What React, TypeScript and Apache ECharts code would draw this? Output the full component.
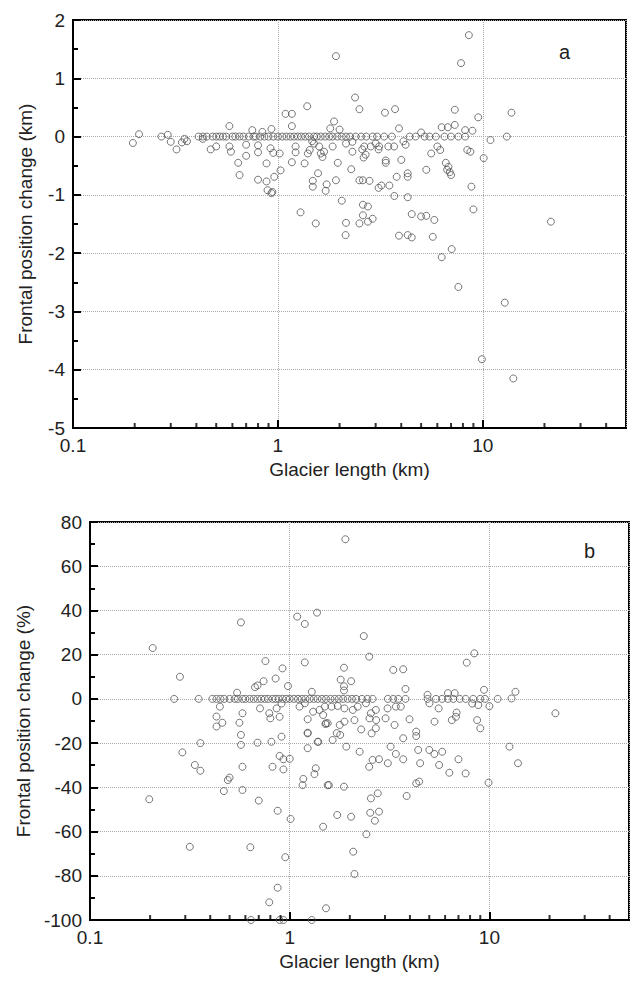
import React, { useEffect, useRef } from "react";
import * as echarts from "echarts";

// ---- Panel a: glacier length (km) vs frontal position change (km)
const panelAPoints: [number, number][] = [
  [0.196, -0.11], [0.21, 0.04], [0.29, 0.03], [0.3, -0.09], [0.32, -0.22], [0.34, -0.1], [0.35, -0.04],
  [0.36, -0.08], [0.43, -0.04], [0.47, -0.22], [0.5, -0.17], [0.58, 0.18], [0.58, -0.17], [0.59, -0.26],
  [0.64, -0.45], [0.65, -0.66], [0.7, -0.14], [0.7, -0.33], [0.75, 0.11], [0.8, -0.74], [0.8, -0.15],
  [0.8, -0.27], [0.84, 0.08], [0.88, -0.77], [0.88, -0.46], [0.89, -0.92], [0.93, -0.97], [0.96, -0.69],
  [0.94, -0.95], [0.93, 0.13], [0.92, -0.2], [0.95, -0.28], [1.02, -0.29], [1.03, -0.58], [1.09, 0.39],
  [1.17, 0.39], [1.17, 0.18], [1.17, -0.44], [1.22, -0.17], [1.22, -0.27], [1.35, -0.46], [1.39, 0.52],
  [1.29, -1.3], [1.4, -0.29], [1.48, -0.86], [1.53, -1.49], [1.57, -0.63], [1.65, -0.35], [1.71, -0.93],
  [1.43, -0.23], [1.5, -0.12], [1.47, -0.08],
  [1.92, 1.38], [8.55, 1.74], [7.83, 1.26], [2.38, 0.67], [2.5, 0.47], [3.33, 0.41], [3.73, 0.47],
  [7.3, 0.46], [9.5, 0.33], [13.8, 0.41], [1.88, 0.26], [1.8, 0.14], [2.0, 0.12], [3.9, 0.14], [5.0, 0.07],
  [6.3, 0.16], [6.75, 0.16], [7.3, 0.2], [8.2, 0.11], [8.9, 0.1], [10.9, -0.06], [13.1, 0.0], [10.1, -0.37],
  [1.59, -0.17], [1.85, -0.17], [2.15, -0.12], [2.31, -0.09], [2.64, -0.17], [2.84, -0.17], [3.12, -0.17],
  [3.46, -0.17], [3.69, -0.17], [1.62, -0.29], [1.68, -0.26], [1.96, -0.45], [2.28, -0.56], [2.31, -0.26],
  [2.58, -0.22], [2.68, -0.31], [2.62, -0.36], [3.1, -0.22], [3.0, -0.12], [3.36, -0.45], [3.36, -0.41],
  [4.0, -0.4], [4.1, -0.08], [4.2, -0.14], [5.6, -0.29], [6.0, -0.17], [6.2, -0.23], [5.3, -0.57],
  [6.6, -0.45], [6.8, -0.52], [6.9, -0.61], [7.0, -0.66], [6.7, -0.57], [8.4, -0.23], [8.7, -0.26],
  [4.3, -0.63], [4.3, -0.69], [3.8, -0.69], [1.48, -0.76], [1.73, -0.82], [1.92, -0.75], [2.5, -0.75],
  [2.6, -0.75], [2.8, -0.76], [3.1, -0.88], [3.2, -0.84], [3.5, -0.84], [3.7, -1.02], [4.3, -1.04],
  [2.05, -1.1], [8.8, -0.86], [9.0, -1.25], [2.6, -1.17], [2.75, -1.2], [2.6, -1.35], [2.9, -1.41],
  [2.75, -1.46], [2.5, -1.49], [2.15, -1.48], [4.5, -1.33], [5.0, -1.37], [5.3, -1.36], [5.8, -1.43],
  [2.14, -1.69], [3.9, -1.7], [4.3, -1.69], [4.5, -1.73], [5.7, -1.72], [7.05, -1.93], [6.3, -2.07],
  [21.5, -1.46], [7.6, -2.58], [12.8, -2.85], [9.9, -3.82], [14.1, -4.15],
];
const panelAZeroLengths: number[] = [
  0.27, 0.41, 0.43, 0.45, 0.48, 0.5, 0.52, 0.54, 0.56, 0.6, 0.62, 0.65, 0.68, 0.72, 0.76, 0.78, 0.82,
  0.86, 0.9, 0.95, 1.0, 1.05, 1.1, 1.15, 1.2, 1.25, 1.3, 1.36, 1.42, 1.5, 1.55, 1.62, 1.7, 1.78, 1.85,
  1.95, 2.05, 2.15, 2.25, 2.4, 2.55, 2.7, 2.9, 3.05, 3.3, 3.6, 4.4, 4.7, 5.2, 5.5, 5.9, 6.5, 7.0, 7.6, 8.2,
];

// ---- Panel b: glacier length (km) vs frontal position change (%)
const panelBPoints: [number, number][] = [
  [0.206, 23], [0.282, 10], [0.264, 0], [0.35, 0], [0.545, 2.8], [0.447, -3.5], [0.43, -8], [0.43, -12.5],
  [0.46, -10.8], [0.58, -6.5], [0.56, -10.8], [0.57, -16.3], [0.57, -20.8], [0.357, -20], [0.29, -24.2],
  [0.335, -29.9], [0.357, -32.5], [0.198, -45.4], [0.316, -66.9], [0.468, -41.7], [0.5, -35.6],
  [0.49, -36.7], [0.58, -41.2], [0.58, -30.7], [0.69, -19.8], [0.7, -46], [0.635, -67.1], [0.71, -4.3],
  [0.67, 5.3], [0.69, 6.1], [0.74, 8.0], [0.756, 17.1], [0.85, 9.2], [0.92, 13.8], [0.98, 5.8], [0.79, -6.5],
  [0.8, -8.8], [0.89, -8.1], [0.91, -2.1], [0.86, -4.3], [0.81, -19.4], [0.91, -17.1], [0.89, -25.8],
  [0.93, -27.3], [1.0, -27.1], [0.82, -30.7], [0.93, -31.9], [0.87, -50.6], [1.01, -54.3], [0.95, -71.6],
  [0.87, -85.4], [0.79, -92], [0.64, -100], [0.89, -100], [0.93, -100], [1.29, -100], [1.09, 37.2],
  [1.19, 33.9], [1.37, 39], [0.57, 34.6], [1.19, 16.5], [1.29, 3.2], [1.23, -9.2], [1.23, -15.3],
  [1.23, -22.3], [1.39, -19.4], [1.52, -11], [1.35, -31.4], [1.33, -34], [1.17, -36.2], [1.16, -39],
  [1.55, -39], [1.47, -57.8], [1.52, -94.7],
  [1.9, 72.2], [2.35, 28.4], [2.5, 19.1], [1.87, 14.1], [3.3, 13.1], [3.7, 13.4], [8.4, 20.6], [7.7, 16.4],
  [1.8, 8.7], [2.03, 8], [1.87, 5.7], [1.87, 3.8], [3.8, 4.5], [4.9, 1.8], [6.2, 2.6], [6.7, 2.6], [9.4, 4.1],
  [13.5, 3.2], [12.9, 0.2], [11.0, 0], [10.0, -3.3], [8.2, -2.1], [8.8, -2.8],
  [1.12, -3.5], [1.19, -2], [1.31, -5.8], [1.41, -5], [1.5, -3.5], [1.62, -3.5], [1.74, -3.2], [1.88, -4.3],
  [2.07, -5], [2.19, -3.5], [2.41, -2.0], [2.55, -6.5], [2.7, -5], [3.09, -4.3], [3.4, -3.5], [3.6, -3.5],
  [1.47, -7.3], [1.55, -11], [1.78, -11.8], [1.88, -10.3], [2.11, -9.6], [2.51, -8.8], [2.71, -9.6],
  [3.02, -8.8], [3.35, -11.8], [3.98, -9.2], [5.01, -2], [5.31, -10.3], [5.57, -4.3], [6.48, -9.6],
  [6.8, -8.1], [6.85, -6.2], [8.68, -9.6], [9.0, -13.3],
  [1.51, -11.4], [1.23, -15.6], [1.38, -19.4], [1.64, -18.6], [1.72, -15.5], [1.79, -16.3], [1.92, -21.6],
  [2.28, -13.8], [2.57, -15.6], [2.7, -13.3], [2.24, -23.9], [3.2, -21.6], [3.4, -24.9], [3.7, -17.8],
  [4.3, -14.8], [4.3, -16.8], [4.4, -23.1], [5.0, -23.1], [5.3, -24.9], [5.8, -23.9], [3.7, -27.3],
  [2.5, -30.7], [2.6, -27.6], [2.8, -27.3], [3.1, -29.1], [4.5, -29.1], [5.6, -29.9], [6.3, -33.4],
  [7.0, -27.3], [7.6, -33.7], [12.6, -21.6], [13.9, -29.1], [9.9, -37.9], [4.3, -38.2], [4.45, -37.4],
  [3.85, -43.9], [1.57, -39], [1.87, -39.7], [2.76, -42.7], [2.55, -45], [2.53, -51.5], [2.8, -51],
  [2.67, -55.1], [1.73, -52.5], [2.03, -53.3], [2.42, -61.2], [2.08, -69.1], [2.11, -79.2], [21.4, -6.5],
];
const panelBZeroLengths: number[] = [
  0.41, 0.43, 0.45, 0.47, 0.5, 0.53, 0.55, 0.58, 0.6, 0.63, 0.66, 0.69, 0.72, 0.75, 0.78, 0.82, 0.85, 0.88,
  0.92, 0.96, 1.0, 1.05, 1.1, 1.15, 1.2, 1.26, 1.32, 1.38, 1.45, 1.52, 1.6, 1.68, 1.76, 1.85, 1.95, 2.05,
  2.15, 2.3, 2.45, 2.6, 3.1, 3.3, 3.5, 3.8, 4.9, 5.4, 5.8, 6.2, 6.6, 7.1, 7.6, 8.3, 9.0, 9.5,
];

// ---- axes
const xMinorTickValues: number[] = [0.2, 0.3, 0.4, 0.5, 0.6, 0.7, 0.8, 0.9, 2, 3, 4, 5, 6, 7, 8, 9, 20, 30, 40];
const xMin = 0.1;
const xMax = 50;
const yRangeA = { min: -5, max: 2, interval: 1 };
const yRangeB = { min: -100, max: 80, interval: 20 };

const FONT = "'Liberation Sans', Arial, sans-serif";
const TEXT = "#222";

function logLabel(v: number): string {
  const l = Math.log10(v);
  const e = Math.round(l);
  if (Math.abs(l - e) > 1e-6) return "";
  return e < 0 ? Math.pow(10, e).toFixed(-e) : String(Math.pow(10, e));
}

function makeX(gridIndex: number) {
  return {
    type: "log",
    gridIndex,
    logBase: 10,
    min: xMin,
    max: xMax,
    axisLine: { show: true, onZero: false, lineStyle: { color: "#000", width: 2 } },
    axisTick: { show: true, inside: true, length: 8, lineStyle: { color: "#000", width: 2 } },
    axisLabel: { fontSize: 19, color: TEXT, fontFamily: FONT, margin: 8, formatter: logLabel, showMaxLabel: false },
    splitLine: { show: true, lineStyle: { color: "#aaa", type: "dotted", width: 1 } },
    name: "Glacier length (km)",
    nameLocation: "middle",
    nameGap: 32,
    nameTextStyle: { fontSize: 19, color: TEXT, fontFamily: FONT },
  };
}

function makeY(gridIndex: number, r: { min: number; max: number; interval: number }, name: string, gap: number) {
  return {
    type: "value",
    gridIndex,
    min: r.min,
    max: r.max,
    interval: r.interval,
    axisLine: { show: true, onZero: false, lineStyle: { color: "#000", width: 2 } },
    axisTick: { show: true, inside: true, length: 8, lineStyle: { color: "#000", width: 2 } },
    minorTick: { show: true, splitNumber: 2, length: 5, lineStyle: { color: "#000", width: 2 } },
    axisLabel: { fontSize: 19, color: TEXT, fontFamily: FONT, margin: 8 },
    splitLine: { show: true, lineStyle: { color: "#aaa", type: "dotted", width: 1 } },
    name,
    nameLocation: "middle",
    nameGap: gap,
    nameTextStyle: { fontSize: 19, color: TEXT, fontFamily: FONT },
  };
}

export default function App() {
  const ref = useRef<HTMLDivElement>(null);
  useEffect(() => {
    if (!ref.current) return;
    const chart = echarts.init(ref.current, null, { renderer: "svg" });
    const dataA = [...panelAPoints, ...panelAZeroLengths.map((x) => [x, 0])];
    const dataB = [...panelBPoints, ...panelBZeroLengths.map((x) => [x, 0])];
    chart.setOption({
      animation: false,
      title: [
        { text: "a", left: 559, top: 42, padding: 0, textStyle: { fontSize: 20, fontWeight: "normal", color: TEXT, fontFamily: FONT } },
        { text: "b", left: 584, top: 541, padding: 0, textStyle: { fontSize: 20, fontWeight: "normal", color: TEXT, fontFamily: FONT } },
      ],
      grid: [
        { left: 73, top: 20, width: 553, height: 408, show: true, borderColor: "#000", borderWidth: 2, backgroundColor: "transparent" },
        { left: 90, top: 522, width: 539, height: 398, show: true, borderColor: "#000", borderWidth: 2, backgroundColor: "transparent" },
      ],
      xAxis: [makeX(0), makeX(1)],
      yAxis: [
        makeY(0, yRangeA, "Frontal position change (km)", 38),
        makeY(1, yRangeB, "Frontal position change (%)", 56),
      ],
      series: [
        { type: "scatter", xAxisIndex: 0, yAxisIndex: 0, symbolSize: 7, itemStyle: { color: "rgba(255,255,255,0)", borderColor: "#555", borderWidth: 1 }, data: dataA },
        { type: "scatter", xAxisIndex: 1, yAxisIndex: 1, symbolSize: 7, itemStyle: { color: "rgba(255,255,255,0)", borderColor: "#555", borderWidth: 1 }, data: dataB },
        { type: "scatter", xAxisIndex: 0, yAxisIndex: 0, silent: true, clip: false, symbol: "rect", symbolSize: [2, 5], symbolOffset: [0, -2.5], itemStyle: { color: "#000" }, data: xMinorTickValues.map((v) => [v, yRangeA.min]) },
        { type: "scatter", xAxisIndex: 1, yAxisIndex: 1, silent: true, clip: false, symbol: "rect", symbolSize: [2, 5], symbolOffset: [0, -2.5], itemStyle: { color: "#000" }, data: xMinorTickValues.map((v) => [v, yRangeB.min]) },
      ],
    });
    return () => chart.dispose();
  }, []);
  return <div ref={ref} style={{ position: "absolute", left: 0, top: 0, width: 633, height: 982 }} />;
}
